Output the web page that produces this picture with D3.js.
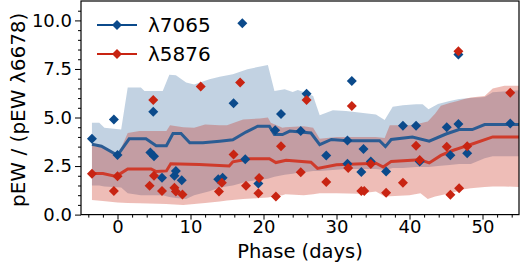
<!DOCTYPE html>
<html>
<head>
<meta charset="utf-8">
<script src="https://cdn.jsdelivr.net/npm/d3@7"></script>
<style>
  body { margin: 0; background: #fff; }
  svg { display: block; font-family: "DejaVu Sans", sans-serif; }
</style>
</head>
<body>
<div id="chart"></div>
<script>
// pEW ratio vs phase

// individual measurements [phase, ratio]
const pts7065 = [[-3.5,3.9],[-0.5,4.9],[0.0,3.07],[4.5,3.2],[5.0,3.0],[4.9,5.3],[6.1,1.9],[7.8,2.0],[8.0,2.25],
  [8.8,1.77],[13.8,1.82],[14.4,1.9],[15.9,5.73],[17.1,9.85],[17.5,2.85],[19.3,1.6],[21.6,4.35],[22.4,5.18],
  [25.1,4.3],[25.9,6.22],[28.6,3.04],[31.5,3.81],[31.5,2.62],[32.1,6.88],[33.4,2.19],[33.7,3.38],[34.7,2.73],
  [36.8,2.22],[39.1,4.57],[40.9,4.57],[41.4,2.73],[45.1,4.5],[45.6,3.05],[46.7,4.66],[46.7,8.25],[47.9,3.16],[53.8,4.69]];
const pts5876 = [[-3.5,2.1],[-0.5,1.22],[0.0,1.97],[4.4,1.48],[5.0,2.0],[4.9,5.9],[6.1,1.22],[7.8,1.38],[8.0,1.19],
  [8.9,1.04],[11.4,6.6],[13.9,1.19],[14.3,1.64],[15.9,3.09],[16.8,6.8],[17.6,1.49],[19.4,1.88],[19.3,1.1],[21.7,0.93],
  [22.4,3.52],[25.1,2.18],[25.9,5.9],[28.6,1.68],[31.6,2.4],[32.1,5.59],[33.4,1.22],[33.8,1.22],[34.7,2.6],[36.8,1.12],
  [39.1,1.64],[40.9,3.55],[41.4,2.81],[45.1,3.5],[45.6,1.02],[46.8,1.36],[46.7,8.41],[47.9,3.52],[53.8,6.27]];

// running medians
const med7065 = [[-3.5,3.62],[-2.2,3.52],[0,3.05],[1.6,3.9],[3.9,3.9],[5.3,3.55],[6.7,3.55],[7.6,4.18],[8.7,4.18],
  [9.9,3.7],[11.7,3.7],[14,3.78],[15.8,3.85],[17.6,4.25],[19.2,4.55],[20.8,4.55],[21.5,4.12],[22.6,4.12],[23.6,4.3],
  [26.5,4.2],[27.7,3.6],[29.3,3.87],[31.5,3.8],[35.9,3.8],[36.7,3.5],[37.5,3.87],[40.4,4.0],[42.7,3.78],[45,4.15],
  [46.8,4.38],[48.6,4.38],[50.3,4.64],[55,4.64]];
const med5876 = [[-3.5,2.12],[-2,2.12],[-0.2,1.97],[1.4,2.35],[4.6,2.35],[5.3,2.22],[6.7,2.25],[7.3,2.62],[11.2,2.58],
  [15.3,2.5],[15.8,2.72],[18.1,2.88],[20.8,2.88],[21.7,2.68],[23.1,2.8],[26.5,2.7],[27.4,2.38],[30,2.57],[35.4,2.65],
  [36.4,2.45],[37.5,2.74],[41.4,2.83],[42.7,2.66],[44.3,3.05],[45.9,3.3],[47.5,3.5],[48.7,3.65],[51.4,4.0],[55,4.0]];

// spread bands [phase, low, high]
const band7065 = [[-3.5,1.5,4.73],[-2.5,1.5,4.73],[-1.8,1.45,4.47],[0.5,1.4,4.38],[1.4,1.1,6.55],[3.2,1.0,6.55],
  [3.7,1.0,6.37],[6.2,1.0,6.37],[7.1,0.9,7.2],[8,0.85,7.18],[9.4,0.8,6.8],[10.5,1.0,6.7],[12.6,1.2,6.97],[14,1.4,7.1],
  [15.8,1.5,7.23],[17.8,1.7,7.49],[20.6,1.85,7.7],[21.5,1.95,6.37],[22.9,2.05,6.46],[24,2.1,6.32],[24.7,2.15,6.42],
  [25.8,2.2,6.28],[26.8,2.25,6.11],[27.7,2.25,5.11],[29.5,2.3,5.37],[31.3,2.35,5.33],[35.4,2.35,5.16],[36.6,2.3,4.87],
  [37.7,2.4,5.56],[39.1,2.4,5.63],[40.9,2.45,5.68],[41.8,2.45,5.68],[42.6,2.45,5.42],[43.9,2.5,5.7],[45.5,2.55,5.85],
  [46.8,2.6,5.95],[48.4,2.6,6.0],[50.3,2.9,6.05],[51.4,3.0,6.3],[55,3.0,6.4]];
const band5876 = [[-3.5,0.75,3.55],[-2,0.7,3.45],[0,0.62,3.0],[1.4,0.6,4.2],[3,0.58,4.3],[6.7,0.55,4.3],[7.2,0.53,4.6],
  [9,0.5,4.5],[10.5,0.55,4.47],[12,0.6,4.64],[14,0.67,4.6],[15,0.72,4.6],[17.2,0.8,4.9],[19.5,0.85,4.95],[20.6,0.88,5.0],
  [21,0.9,4.73],[22.6,1.0,4.47],[23,1.05,4.5],[25.5,1.0,4.55],[26.8,1.05,4.47],[27.7,1.1,3.9],[30,1.1,4.0],[33,1.08,4.0],
  [35.4,1.19,4.0],[36.6,0.93,3.95],[37.3,0.95,4.6],[40,1.0,4.6],[41.5,1.1,4.7],[42.5,0.8,4.8],[43.5,0.93,5.2],
  [44.3,1.0,5.6],[45.5,1.1,5.75],[46.6,1.2,5.85],[47.5,1.3,5.95],[48.4,1.36,6.03],[50.3,1.42,6.11],[51.4,1.45,6.49],
  [53,1.45,6.63],[55,1.42,6.63]];

const xTicks = [0, 10, 20, 30, 40, 50];
const yTicks = [0, 2.5, 5, 7.5, 10];

const blue = '#0b4a8b';
const red = '#c82412';

const W = 520, H = 265;
const margin = { top: 1, right: 1, bottom: 50.4, left: 81 };

const svg = d3.select('#chart').append('svg')
  .attr('width', W)
  .attr('height', H);

const x = d3.scaleLinear().domain([-5, 55]).range([margin.left, W - margin.right]);
const y = d3.scaleLinear().domain([0, 11]).range([H - margin.bottom, margin.top]);

// Clip
svg.append('clipPath').attr('id', 'clip')
  .append('rect')
  .attr('x', margin.left).attr('y', margin.top)
  .attr('width', x.range()[1] - margin.left)
  .attr('height', y.range()[0] - margin.top);

const plot = svg.append('g').attr('clip-path', 'url(#clip)');

// Bands
const area = d3.area()
  .x(d => x(d[0]))
  .y0(d => y(d[1]))
  .y1(d => y(d[2]));

plot.append('path').datum(band7065)
  .attr('d', area)
  .attr('fill', blue)
  .attr('fill-opacity', 0.25);

plot.append('path').datum(band5876)
  .attr('d', area)
  .attr('fill', red)
  .attr('fill-opacity', 0.3);

// Median lines
const line = d3.line().x(d => x(d[0])).y(d => y(d[1]));

plot.append('path').datum(med7065)
  .attr('d', line)
  .attr('fill', 'none')
  .attr('stroke', '#2b5c93')
  .attr('stroke-width', 3);

plot.append('path').datum(med5876)
  .attr('d', line)
  .attr('fill', 'none')
  .attr('stroke', '#cf3b2b')
  .attr('stroke-width', 3);

// Diamonds
const diamond = d3.symbol().type(d3.symbolSquare).size(50);

plot.selectAll('.d7065')
  .data(pts7065)
  .enter().append('path')
  .attr('class', 'd7065')
  .attr('d', diamond)
  .attr('transform', d => `translate(${x(d[0])},${y(d[1])}) rotate(45)`)
  .attr('fill', blue);

plot.selectAll('.d5876')
  .data(pts5876)
  .enter().append('path')
  .attr('class', 'd5876')
  .attr('d', diamond)
  .attr('transform', d => `translate(${x(d[0])},${y(d[1])}) rotate(45)`)
  .attr('fill', red);

// Axes
svg.append('g')
  .attr('transform', `translate(0,${y.range()[0]})`)
  .call(d3.axisBottom(x).tickValues(xTicks).tickSize(5).tickPadding(1));
svg.append('g')
  .attr('transform', `translate(0,${y.range()[0]})`)
  .call(d3.axisBottom(x).tickValues(d3.range(-4, 56, 2).filter(v => v % 10 !== 0)).tickSize(3).tickFormat(''));

svg.append('g')
  .attr('transform', `translate(${margin.left},0)`)
  .call(d3.axisLeft(y).tickValues(yTicks).tickSize(6).tickPadding(3).tickFormat(d3.format('.1f')));
svg.append('g')
  .attr('transform', `translate(${margin.left},0)`)
  .call(d3.axisLeft(y).tickValues(d3.range(0.5, 11, 0.5).filter(v => v % 2.5 !== 0)).tickSize(3).tickFormat(''));

svg.selectAll('.tick text').attr('font-size', 18).attr('font-family', '"DejaVu Sans", sans-serif').attr('fill', '#000');
svg.selectAll('.tick line').attr('stroke', '#000');
svg.selectAll('.domain').remove();

// Frame
svg.append('rect')
  .attr('x', margin.left)
  .attr('y', margin.top)
  .attr('width', x.range()[1] - margin.left)
  .attr('height', y.range()[0] - margin.top)
  .attr('fill', 'none')
  .attr('stroke', '#000')
  .attr('stroke-width', 1.2);

// Axis labels
svg.append('text')
  .attr('x', (margin.left + x.range()[1]) / 2)
  .attr('y', 258)
  .attr('text-anchor', 'middle')
  .attr('font-size', 19.5)
  .text('Phase (days)');

svg.append('text')
  .attr('transform', `translate(25,${(margin.top + y.range()[0]) / 2 + 2}) rotate(-90)`)
  .attr('text-anchor', 'middle')
  .attr('font-size', 20)
  .text('pEW / (pEW λ6678)');

// Legend
const legendItems = [['λ7065', blue], ['λ5876', red]];
const legend = svg.append('g').attr('transform', 'translate(97,25)');
legendItems.forEach(([label, col], i) => {
  const g = legend.append('g').attr('transform', `translate(0,${i * 29})`);
  g.append('line')
    .attr('x1', 0).attr('x2', 40)
    .attr('stroke', col)
    .attr('stroke-width', 2);
  g.append('path')
    .attr('d', diamond)
    .attr('transform', 'translate(20,0) rotate(45)')
    .attr('fill', col);
  g.append('text')
    .attr('x', 51)
    .attr('y', 7)
    .attr('font-size', 20)
    .text(label);
});
</script>
</body>
</html>
